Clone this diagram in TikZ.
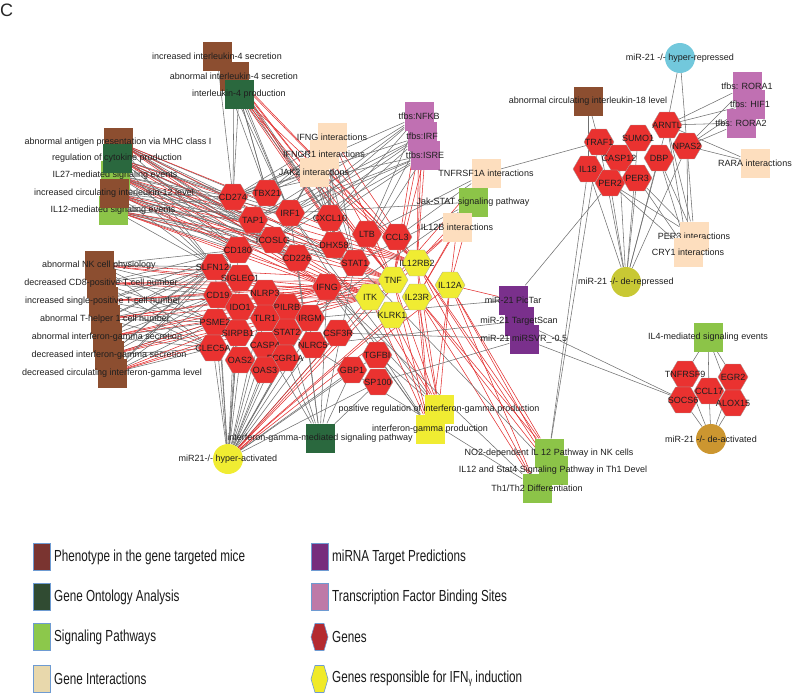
\documentclass[tikz,border=0pt]{standalone}
\usepackage{fontspec}
\setmainfont{Liberation Sans}
\newfontfamily\legendfont[FakeStretch=0.73]{Liberation Sans}
\usetikzlibrary{shapes.geometric}
\pgfdeclarelayer{bg}
\pgfsetlayers{bg,main}
\definecolor{pheno}{RGB}{140,78,48}
\definecolor{gonto}{RGB}{42,104,62}
\definecolor{pathw}{RGB}{140,196,72}
\definecolor{inter}{RGB}{253,222,190}
\definecolor{mirna}{RGB}{122,48,140}
\definecolor{tfbs}{RGB}{192,112,178}
\definecolor{genered}{RGB}{234,50,48}
\definecolor{ifnyel}{RGB}{240,236,50}
\definecolor{hrep}{RGB}{114,200,220}
\definecolor{drep}{RGB}{200,200,52}
\definecolor{dact}{RGB}{204,150,48}
\definecolor{grayedge}{RGB}{112,112,112}
\definecolor{rededge}{RGB}{226,48,48}
\definecolor{legbord}{RGB}{110,155,210}
\definecolor{legpheno}{RGB}{122,52,48}
\definecolor{leggo}{RGB}{48,75,50}
\definecolor{legpath}{RGB}{140,200,75}
\definecolor{leginter}{RGB}{232,216,172}
\definecolor{legmir}{RGB}{118,45,125}
\definecolor{legtfbs}{RGB}{190,122,168}
\definecolor{leggene}{RGB}{180,42,48}
\definecolor{legyel}{RGB}{240,234,40}
\begin{document}
\begin{tikzpicture}[x=1pt,y=-1pt,
  lbl/.style={font=\fontsize{9}{10}\selectfont, text=black!88, inner sep=0pt},
  sq/.style={rectangle, minimum size=29pt, inner sep=0pt},
  gene/.style={regular polygon, regular polygon sides=6, minimum size=30pt, inner sep=0pt, draw=black!35, line width=0.3pt},
  mcirc/.style={circle, minimum size=30pt, inner sep=0pt},
  gl/.style={draw=grayedge, line width=0.55pt},
  rl/.style={draw=rededge, line width=0.55pt},
  legbox/.style={rectangle, minimum width=17pt, minimum height=27pt, inner sep=0pt, draw=legbord, line width=0.6pt},
  legtxt/.style={anchor=west, inner sep=0pt, font=\legendfont\fontsize{16}{18}\selectfont, text=black!90}]
\useasboundingbox (0,0) rectangle (800,694);
\node[anchor=west, inner sep=0pt, font=\fontsize{18}{18}\selectfont, text=black!85] (panel) at (0,10) {C};

\foreach \c/\n/\x/\y/\t in {
  pheno/inc4/217/56/{increased interleukin-4 secretion},
  pheno/abn4/234/76/{abnormal interleukin-4 secretion},
  gonto/il4p/239/94/{interleukin-4 production},
  pathw/il27/115/175/{IL27-mediated signaling events},
  pheno/mhc/118/142/{abnormal antigen presentation via MHC class I},
  gonto/cyto/117/158/{regulation of cytokine production},
  pathw/il12sig/113/210/{IL12-mediated signaling events},
  pheno/il12lvl/114/193/{increased circulating interleukin-12 level},
  pheno/nk/99/265/{abnormal NK cell physiology},
  pheno/cd8/101/283/{decreased CD8-positive T cell number},
  pheno/spt/103/301/{increased single-positive T cell number},
  pheno/thn/105/319/{abnormal T-helper 1 cell number},
  pheno/ifnsec/107/337/{abnormal interferon-gamma secretion},
  pheno/decifn/109/355/{decreased interferon-gamma secretion},
  pheno/circifn/112/373/{decreased circulating interferon-gamma level},
  inter/ifngi/332/137/{IFNG interactions},
  inter/ifngri/324/154/{IFNGR1 interactions},
  inter/jaki/314/172/{JAK2 interactions},
  tfbs/nfkb/419/116/{tfbs:NFKB},
  tfbs/irfb/422/136/{tfbs:IRF},
  tfbs/isre/425/155/{tfbs:ISRE},
  inter/tnfi/486/173/{TNFRSF1A interactions},
  pathw/jaks/473/202/{Jak-STAT signaling pathway},
  inter/ilbi/457/227/{IL12B interactions},
  pheno/il18lvl/588/101/{abnormal circulating interleukin-18 level},
  tfbs/rora1/747/86/{tfbs: RORA1},
  tfbs/hif1/750/104/{tfbs: HIF1},
  tfbs/rora2/741/123/{tfbs: RORA2},
  inter/rarai/755/163/{RARA interactions},
  inter/per3i/694/236/{PER3 interactions},
  inter/cry1i/688/252/{CRY1 interactions},
  mirna/pictar/513/300/{miR-21 PicTar},
  mirna/tscan/519/321/{miR-21 TargetScan},
  mirna/svr/524/339/{miR-21 miRSVR\_-0.5},
  pathw/il4sig/708/337/{IL4-mediated signaling events},
  ifnyel/posreg/439/409/{positive regulation of interferon-gamma production},
  ifnyel/ifnprod/430/429/{interferon-gamma production},
  gonto/ifnpath/320/438/{interferon-gamma-mediated signaling pathway},
  pathw/notwo/549/453/{NO2-dependent IL 12 Pathway in NK cells},
  pathw/stfour/553/470/{IL12 and Stat4 Signaling Pathway in Th1 Devel},
  pathw/thth/537/488/{Th1/Th2 Differentiation}}
  \node[sq, fill=\c, label={[lbl]center:\t}] (\n) at (\x,\y) {};

\foreach \n/\x/\y/\t in {
  cd274/233/197/CD274, tbx21/267/193/TBX21, tap1/253/220/TAP1, irf1/290/213/IRF1,
  cxcl10/330/218/CXCL10, icoslg/273/240/ICOSLG, cd180/238/250/CD180, cd226/297/258/CD226,
  dhx58/334/245/DHX58, ltb/367/234/LTB, ccl3/397/237/CCL3, stat1/355/263/STAT1,
  slfn12l/215/267/SLFN12L, siglec1/240/278/SIGLEC1, ifng/327/287/IFNG, cd19/218/295/CD19,
  nlrp3/265/293/NLRP3, ido1/240/307/IDO1, pilrb/287/307/PILRB, psme2/215/322/PSME2,
  tlr1/265/318/TLR1, irgm/310/318/IRGM, sirpb1/238/333/SIRPB1, stat2/287/332/STAT2,
  csf3r/338/333/CSF3R, clec5a/213/348/CLEC5A, casp4/265/345/CASP4, nlrc5/313/345/NLRC5,
  oas2/240/360/OAS2, fcgr1a/285/358/FCGR1A, oas3/265/370/OAS3, gbp1/352/370/GBP1,
  tgfbi/377/355/TGFBI, sp100/378/382/SP100,
  arntl/667/125/ARNTL, traf1/599/142/TRAF1, sumo1/638/138/SUMO1, npas2/687/146/NPAS2,
  casp12/619/158/CASP12, dbp/659/158/DBP, il18/588/169/IL18, per3/637/178/PER3,
  per2/610/183/PER2, tnfrsf9/685/374/TNFRSF9, egr2/733/377/EGR2, ccl17/709/391/CCL17,
  socs6/683/400/SOCS6, alox15/733/403/ALOX15}
  \node[gene, fill=genered, label={[lbl]center:\t}] (\n) at (\x,\y) {};

\foreach \n/\x/\y/\t in {
  il12rb2/417/263/IL12RB2, tnf/393/280/TNF, il12a/450/285/IL12A,
  itk/370/297/ITK, il23r/417/297/IL23R, klrk1/392/315/KLRK1}
  \node[gene, fill=ifnyel, label={[lbl]center:\t}] (\n) at (\x,\y) {};

\node[mcirc, fill=hrep, label={[lbl]center:miR-21 -/- hyper-repressed}] (mhr) at (680,58) {};
\node[mcirc, fill=drep, label={[lbl]center:miR-21 -/- de-repressed}] (mdr) at (626,282) {};
\node[mcirc, fill=dact, label={[lbl]center:miR-21 -/- de-activated}] (mda) at (711,439) {};
\node[mcirc, fill=ifnyel, label={[lbl]center:miR21-/- hyper-activated}] (mha) at (228,459) {};

\begin{pgfonlayer}{bg}
\foreach \a in {inc4,abn4,il4p} {
  \foreach \b in {cd274,tbx21,irf1,cxcl10} \draw[gl] (\a) -- (\b);
  \foreach \b in {stat1,tnf,il12rb2} \draw[rl] (\a) -- (\b);
}
\foreach \a in {mhc,cyto,il27,il12lvl,il12sig} {
  \foreach \b in {cd274,tap1,cd180,slfn12l,icoslg,cd226,stat1,irf1} \draw[gl] (\a) -- (\b);
  \foreach \b in {ifng,tnf,il12rb2,itk} \draw[rl] (\a) -- (\b);
}
\foreach \a in {nk,cd8,spt,thn,ifnsec,decifn,circifn} {
  \foreach \b in {slfn12l,cd19,cd180,psme2,clec5a} \draw[gl] (\a) -- (\b);
  \foreach \b in {ifng,itk,tnf} \draw[rl] (\a) -- (\b);
}
\foreach \a in {ifngi,ifngri,jaki} {
  \foreach \b in {irf1,cxcl10,stat1,dhx58,tbx21,cd274} \draw[gl] (\a) -- (\b);
  \foreach \b in {il12rb2,tnf} \draw[rl] (\a) -- (\b);
}
\foreach \a in {nfkb,irfb,isre} {
  \foreach \b in {cd274,tap1,irf1,cxcl10,stat1,icoslg} \draw[gl] (\a) -- (\b);
  \foreach \b in {il12rb2,tnf} \draw[rl] (\a) -- (\b);
}
\foreach \b in {traf1,ltb,ccl3} \draw[gl] (tnfi) -- (\b);
\draw[rl] (tnfi) -- (tnf);
\foreach \b in {stat1,stat2,irf1} \draw[gl] (jaks) -- (\b);
\foreach \b in {il12rb2,il12a,il23r} \draw[rl] (jaks) -- (\b);
\foreach \b in {il12rb2,il12a,il23r,tnf} \draw[rl] (ilbi) -- (\b);
\foreach \b in {slfn12l,cd19,psme2,clec5a,oas2,oas3,sirpb1,ido1,casp4,tlr1,fcgr1a,stat2,
  nlrc5,irgm,pilrb,nlrp3,siglec1,cd180,csf3r,gbp1,sp100,tgfbi,stat1,ifng}
  \draw[gl] (mha) -- (\b);
\foreach \b in {itk,tnf,klrk1,il23r,il12rb2,il12a} \draw[rl] (mha) -- (\b);
\foreach \b in {irf1,stat1,stat2,ifng,gbp1,sp100,fcgr1a,casp4,cd226} \draw[gl] (ifnpath) -- (\b);
\foreach \a in {posreg,ifnprod} {
  \foreach \b in {il12rb2,il12a,il23r,tnf,klrk1,itk} \draw[rl] (\a) -- (\b);
  \foreach \b in {tgfbi,ifng,irf1} \draw[gl] (\a) -- (\b);
}
\foreach \a in {notwo,stfour,thth} {
  \foreach \b in {il12a,il12rb2,il23r} \draw[rl] (\a) -- (\b);
}
\foreach \a/\b in {stat1/stfour,ifng/thth,stat2/thth,notwo/il18,notwo/traf1,
  csf3r/svr,sp100/svr,nlrc5/tscan,irgm/pictar,pictar/per2,svr/socs6,tscan/socs6}
  \draw[gl] (\a) -- (\b);
\draw[rl] (il12a) -- (pictar);
\foreach \a in {mhr,rora1,hif1,rora2,rarai} {
  \foreach \b in {arntl,npas2} \draw[gl] (\a) -- (\b);
}
\foreach \b in {il18,traf1} \draw[gl] (il18lvl) -- (\b);
\foreach \a in {per3i,cry1i} {
  \foreach \b in {per2,per3,arntl,npas2,dbp} \draw[gl] (\a) -- (\b);
}
\foreach \b in {il18,per2,per3,casp12,dbp,arntl,npas2,sumo1,traf1} \draw[gl] (mdr) -- (\b);
\foreach \b in {tnfrsf9,egr2,ccl17,alox15} \draw[gl] (il4sig) -- (\b);
\foreach \b in {socs6,ccl17,alox15,tnfrsf9,egr2} \draw[gl] (mda) -- (\b);
\end{pgfonlayer}

\foreach \n/\x/\y/\c/\t in {
  kpheno/41.5/557/legpheno/{Phenotype in the gene targeted mice},
  kgo/41.5/597/leggo/{Gene Ontology Analysis},
  kpath/41.5/637/legpath/{Signaling Pathways},
  kinter/41.5/679/leginter/{Gene Interactions},
  kmir/319.5/557/legmir/{miRNA Target Predictions},
  ktfbs/319.5/597/legtfbs/{Transcription Factor Binding Sites}}
  \node[legbox, fill=\c] (\n) at (\x,\y) {};
\foreach \n/\x/\y/\t in {
  tpheno/54/557/{Phenotype in the gene targeted mice},
  tgo/54/597/{Gene Ontology Analysis},
  tpath/54/637/{Signaling Pathways},
  tinter/54/679/{Gene Interactions},
  tmir/332/557/{miRNA Target Predictions},
  ttfbs/332/597/{Transcription Factor Binding Sites},
  tgene/332/637/{Genes}}
  \node[legtxt] (\n) at (\x,\y) {\t};
\node[legtxt] (tyel) at (332,679) {Genes responsible for IFN{\fontsize{10}{10}\selectfont\raisebox{-2pt}{γ}} induction};
\filldraw[fill=leggene, draw=legbord, line width=0.6pt] (311,637) -- (315,623.5) -- (324,623.5) -- (328,637) -- (324,650.5) -- (315,650.5) -- cycle;
\filldraw[fill=legyel, draw=legbord, line width=0.6pt] (311,679) -- (315,665.5) -- (324,665.5) -- (328,679) -- (324,692.5) -- (315,692.5) -- cycle;
\end{tikzpicture}
\end{document}
